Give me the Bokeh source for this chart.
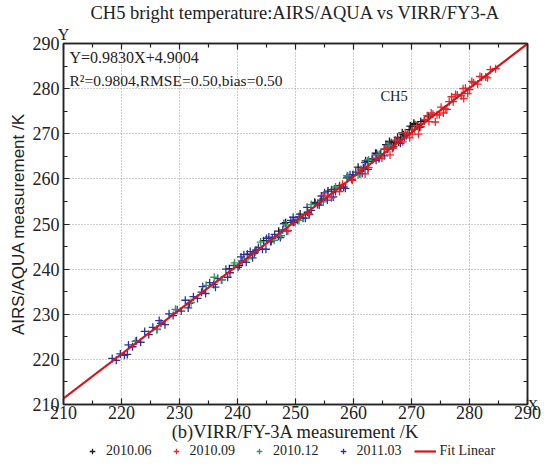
from bokeh.plotting import figure
from bokeh.layouts import column
from bokeh.models import (Range1d, LinearAxis, Legend, LegendItem, Label, FixedTicker)
from bokeh.embed import file_html
from bokeh.resources import INLINE

# ---------------- data ----------------
title_text = "CH5 bright temperature:AIRS/AQUA vs VIRR/FY3-A"
x_label = "(b)VIRR/FY-3A measurement /K"
y_label = "AIRS/AQUA measurement /K"
ticks = [210, 220, 230, 240, 250, 260, 270, 280, 290]
fit_slope = 0.9830
fit_intercept = 4.9004
fit_text = "Y=0.9830X+4.9004"
stats_text = "R\u00b2=0.9804,RMSE=0.50,bias=0.50"
corner_y = "Y"
corner_x = "X"

series_names = ["2010.06", "2010.09", "2010.12", "2011.03"]
fit_name = "Fit Linear"

x06 = [238.6, 240.3, 241.7, 243.2, 244.5, 245.8, 247.1, 248.3, 249.6, 250.8,
       252.1, 253.3, 254.4, 255.6, 256.7, 257.8, 258.9, 259.9, 260.8, 261.7,
       262.5, 263.3, 264.0, 264.7, 265.3, 265.9, 266.5, 267.1, 267.6, 268.1,
       268.6, 269.1, 269.6, 270.1, 270.6, 271.1, 271.6, 272.2, 272.9, 263.8,
       265.6, 266.9, 268.4, 269.8, 271.4, 262.1, 267.8, 270.4, 264.4, 266.2]
y06 = [240.1, 240.8, 243.3, 244.2, 246.3, 246.2, 248.4, 250.3, 250.4, 252.2,
       252.6, 254.8, 255.3, 257.3, 257.7, 258.0, 260.2, 260.9, 262.6, 262.4,
       263.9, 264.3, 265.6, 265.5, 266.6, 266.6, 268.0, 268.1, 269.2, 268.8,
       269.8, 269.6, 270.9, 270.9, 272.0, 271.7, 272.7, 272.9, 273.9, 265.7,
       267.6, 267.1, 270.2, 271.7, 271.4, 264.0, 268.1, 272.3, 264.5, 268.3]

x09 = [256.2, 258.1, 259.8, 261.3, 262.6, 263.8, 264.9, 265.9, 266.8, 267.7,
       268.5, 269.3, 270.1, 270.9, 271.6, 272.3, 273.0, 273.7, 274.4, 275.1,
       275.8, 276.5, 277.2, 277.9, 278.6, 279.3, 280.0, 280.7, 281.4, 282.1,
       282.8, 283.6, 284.5, 266.3, 268.9, 271.2, 273.4, 275.5, 277.6, 279.7,
       281.8, 269.7, 272.7, 274.8, 276.9, 278.9, 267.2, 270.5, 276.1, 280.4,
       283.1, 265.4, 262.0, 279.0, 274.1, 248.7, 252.3, 254.9, 257.6]
y09 = [255.8, 258.8, 259.7, 262.1, 262.5, 264.6, 264.6, 266.8, 266.8, 268.6,
       268.2, 269.9, 269.9, 271.8, 271.6, 273.1, 272.7, 274.3, 274.2, 275.9,
       275.5, 277.1, 277.1, 278.6, 278.4, 280.1, 279.8, 281.3, 281.0, 282.6,
       282.6, 284.2, 284.4, 265.3, 270.2, 269.9, 274.6, 274.6, 278.7, 278.9,
       282.7, 269.1, 274.0, 274.2, 278.2, 280.0, 268.6, 271.0, 275.4, 281.6,
       282.4, 266.6, 261.1, 277.8, 272.6, 248.5, 252.2, 256.4, 257.2]

x12 = [222.4, 226.1, 229.3, 232.0, 234.6, 237.2, 239.5, 241.8, 244.0, 246.3,
       248.4, 250.6, 252.7, 254.8, 256.9, 258.9, 260.8, 262.6, 264.4, 266.1,
       236.0, 247.5]
y12 = [224.0, 226.6, 231.1, 232.6, 236.4, 237.6, 241.4, 242.3, 246.0, 246.4,
       249.8, 250.8, 254.3, 254.9, 258.2, 260.7, 260.9, 264.2, 265.4, 267.4,
       238.2, 247.4]

x03 = [218.4, 219.1, 219.8, 220.5, 221.2, 221.9, 222.6, 223.3, 224.0, 224.7,
       225.4, 226.1, 226.8, 227.5, 228.2, 228.9, 229.6, 230.3, 231.0, 231.7,
       232.4, 233.1, 233.8, 234.5, 235.2, 235.9, 236.6, 237.3, 238.0, 238.7,
       239.4, 240.1, 240.8, 241.5, 242.2, 242.9, 243.6, 244.3, 245.0, 245.7,
       246.4, 247.1, 247.8, 248.5, 249.2, 249.9, 250.6, 251.3, 252.0, 252.7,
       253.4, 254.1, 254.8, 255.5, 256.2, 256.9, 257.6, 258.3, 259.0, 259.7,
       260.4, 261.1, 261.8, 262.5, 263.2, 263.9, 264.6, 265.3, 266.0, 266.7,
       267.4, 268.1, 268.8, 236.2, 241.1, 244.9, 248.0, 251.7, 255.0, 258.6,
       262.0, 250.3, 246.0, 253.8, 243.0, 221.0, 226.5, 231.5, 234.0, 238.3,
       240.6, 242.6, 245.4, 247.4, 249.6, 252.4, 254.5, 256.5, 259.4, 261.5,
       264.0]
y03 = [220.2, 219.8, 221.2, 220.9, 223.2, 222.8, 224.1, 223.8, 226.2, 225.5,
       227.1, 226.7, 228.0, 227.7, 230.1, 229.7, 231.0, 230.7, 233.1, 232.4,
       233.9, 233.5, 234.9, 234.6, 237.0, 236.6, 237.9, 237.6, 240.0, 239.2,
       240.8, 240.4, 241.8, 241.5, 243.9, 243.5, 244.8, 244.4, 246.8, 246.1,
       247.7, 247.3, 248.7, 248.4, 250.8, 250.4, 251.6, 251.3, 253.7, 253.0,
       254.6, 254.2, 255.6, 255.3, 257.6, 257.2, 258.5, 258.2, 260.6, 259.9,
       261.5, 261.1, 262.4, 262.1, 264.5, 264.1, 265.4, 265.1, 267.5, 266.8,
       268.4, 267.9, 269.3, 236.0, 243.2, 244.4, 250.1, 251.3, 256.9, 257.9,
       263.6, 250.9, 246.8, 254.3, 243.8, 221.1, 228.6, 231.4, 236.1, 238.2,
       242.7, 242.5, 247.1, 247.0, 251.5, 252.1, 256.2, 256.0, 260.9, 261.2,
       265.3]

# ---------------- styles ----------------
SERIF = "Liberation Serif"
SANS = "Liberation Sans"
INK = "#222222"
colors = ["#1c1c1c", "#e8262b", "#2e9a5a", "#2b31a0"]   # 2010.06, 2010.09, 2010.12, 2011.03
fit_color = "#d4161c"
MK = dict(marker="cross", size=8, line_width=1.3)

p = figure(width=541, height=444, output_backend="svg", toolbar_location=None,
           x_range=Range1d(ticks[0], ticks[-1]), y_range=Range1d(ticks[0], ticks[-1]),
           x_axis_label=x_label, y_axis_label=y_label,
           min_border_left=63, min_border_right=4, min_border_top=39, min_border_bottom=10)
p.background_fill_color = "white"
p.border_fill_color = "white"
p.outline_line_color = INK
p.outline_line_width = 1.5

p.title.text = title_text
p.title.text_font = SERIF
p.title.text_font_size = "18.5px"
p.title.text_font_style = "normal"
p.title.align = "center"
p.title.text_color = INK
p.title.standoff = 0

minor = [t + 5 for t in ticks[:-1]]


def style_axis(ax):
    ax.ticker = FixedTicker(ticks=ticks, minor_ticks=minor)
    ax.axis_line_color = INK
    ax.axis_line_width = 1.5
    ax.major_tick_line_color = INK
    ax.minor_tick_line_color = INK
    ax.major_tick_line_width = 1.2
    ax.minor_tick_line_width = 1.2
    ax.major_tick_in = 6
    ax.major_tick_out = 0
    ax.minor_tick_in = 4
    ax.minor_tick_out = 0
    ax.major_label_text_font = SERIF
    ax.major_label_text_font_size = "18px"
    ax.major_label_text_color = INK


for ax in p.xaxis + p.yaxis:
    style_axis(ax)
p.xaxis.major_label_standoff = 1
p.yaxis.major_label_standoff = 4
p.xaxis.axis_label_text_font = SERIF
p.xaxis.axis_label_text_font_size = "18.5px"
p.xaxis.axis_label_text_font_style = "normal"
p.xaxis.axis_label_text_color = INK
p.xaxis.axis_label_standoff = 0
p.yaxis.axis_label_text_font = SANS
p.yaxis.axis_label_text_font_size = "17px"
p.yaxis.axis_label_text_font_style = "normal"
p.yaxis.axis_label_text_color = INK
p.yaxis.axis_label_standoff = 2

# mirror axes (top / right); their only label is the corner letter
top_ax = LinearAxis()
right_ax = LinearAxis()
style_axis(top_ax)
style_axis(right_ax)
top_ax.major_label_overrides = {t: (corner_y if t == ticks[0] else "") for t in ticks}
right_ax.major_label_overrides = {t: (corner_x if t == ticks[0] else "") for t in ticks}
top_ax.major_label_text_font_size = "16px"
right_ax.major_label_text_font_size = "15px"
top_ax.major_label_standoff = 1
right_ax.major_label_standoff = 0
p.add_layout(top_ax, "above")
p.add_layout(right_ax, "right")

p.grid.ticker = FixedTicker(ticks=ticks)
p.grid.grid_line_color = "#9a9a9a"
p.grid.grid_line_dash = "1 2"
p.grid.grid_line_width = 1

# scatter series (drawing order: 2010.06, 2011.03, 2010.12, 2010.09)
p.scatter(x06, y06, line_color=colors[0], **MK)
p.scatter(x03, y03, line_color=colors[3], **MK)
p.scatter(x12, y12, line_color=colors[2], **MK)
p.scatter(x09, y09, line_color=colors[1], **MK)

fx = [ticks[0], ticks[-1]]
fy = [fit_slope * v + fit_intercept for v in fx]
p.line(fx, fy, line_color=fit_color, line_width=2.2)

p.add_layout(Label(x=ticks[0], y=ticks[-1], x_offset=6, y_offset=-14, text=fit_text,
                   text_font=SERIF, text_font_size="16px", text_baseline="middle",
                   text_color=INK))
p.add_layout(Label(x=ticks[0], y=ticks[-1], x_offset=6, y_offset=-37, text=stats_text,
                   text_font=SERIF, text_font_size="15.5px", text_baseline="middle",
                   text_color=INK))
p.add_layout(Label(x=267.0, y=278.4, text="CH5", text_font=SERIF, text_font_size="14.5px",
                   text_align="center", text_baseline="middle", text_color=INK))

# ---------------- legend strip below the plot ----------------
# each legend entry needs a renderer of its own plot; a single placeholder
# point outside the strip's range keeps the glyph styles resolvable
lg = figure(width=541, height=15, output_backend="svg", toolbar_location=None,
            x_range=Range1d(0, 1), y_range=Range1d(0, 1),
            x_axis_type=None, y_axis_type=None,
            min_border_left=0, min_border_right=0, min_border_top=0, min_border_bottom=0)
lg.outline_line_color = None
lg.grid.visible = False
hidden_x, hidden_y = [-5.0], [-5.0]
items = []
for name, c in zip(series_names, colors):
    r = lg.scatter(hidden_x, hidden_y, line_color=c, **MK)
    items.append(LegendItem(label=name, renderers=[r]))
rl = lg.line(hidden_x * 2, hidden_y * 2, line_color=fit_color, line_width=2.2)
items.append(LegendItem(label=fit_name, renderers=[rl]))
legend = Legend(items=items, orientation="horizontal", location=(18, 0),
                glyph_width=22, glyph_height=14, label_height=14,
                label_standoff=3, spacing=13, padding=0, margin=0,
                border_line_color=None, background_fill_alpha=0,
                label_text_font=SERIF, label_text_font_size="14px",
                label_text_color=INK)
lg.add_layout(legend, "center")

page = column(p, lg, spacing=0)
open("out.html", "w").write(file_html(page, INLINE))
